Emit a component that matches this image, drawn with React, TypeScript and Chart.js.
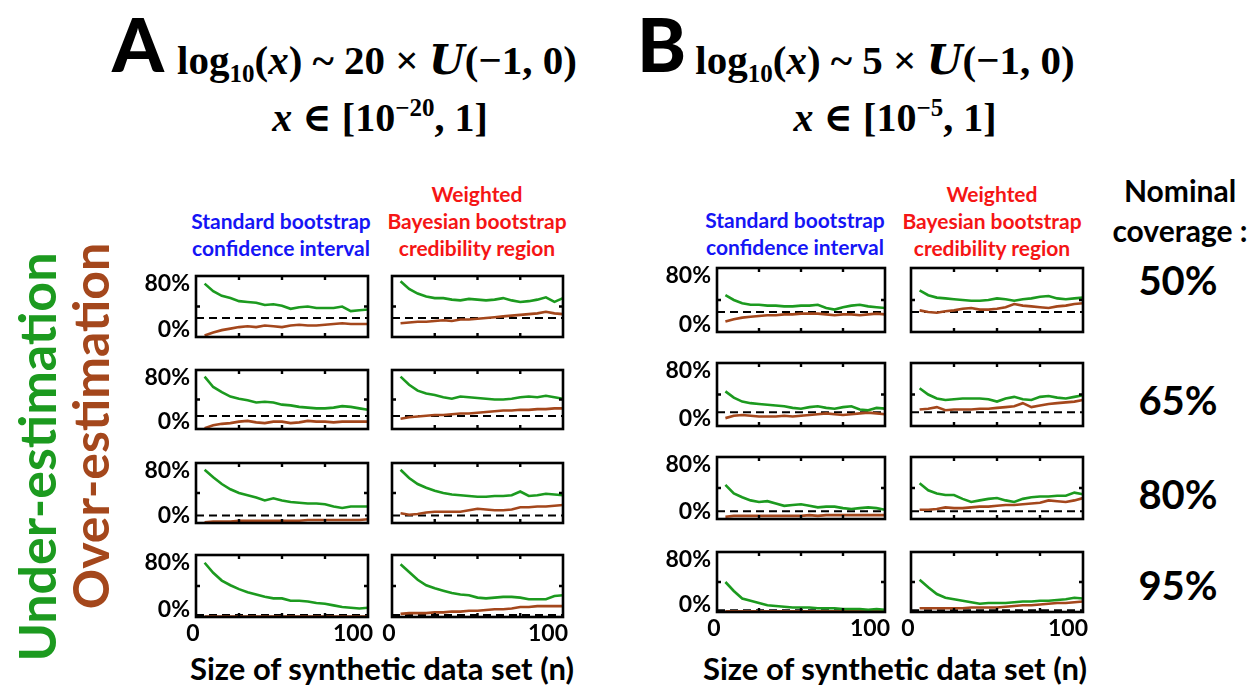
import React, { useEffect, useRef } from "react";
import { Chart, registerables } from "chart.js";
Chart.register(...registerables);

// ---------- data ----------
const nSizes = [5, 10, 15, 20, 25, 30, 35, 40, 45, 50, 55, 60, 65, 70, 75, 80, 85, 90, 95, 100];
const nominalCoverage = ["50%", "65%", "80%", "95%"];
const dashedLevels = [25, 17.5, 10, 2.5];

// Panel A (x in [1e-20, 1]) — standard bootstrap
const aStdGreen = [
  [70, 60, 54, 51, 47, 46, 45, 42, 43, 41, 37, 39, 40, 38, 38, 38, 40, 34, 35, 36],
  [71, 57, 50, 44, 41, 39, 36, 37, 36, 33, 32, 30, 29, 28, 28, 29, 31, 30, 28, 26],
  [71, 61, 52, 45, 40, 37, 34, 30, 33, 30, 28, 27, 26, 26, 25, 22, 20, 22, 22, 22],
  [70, 57, 47, 41, 36, 32, 29, 26, 24, 24, 21, 21, 20, 18, 17, 15, 13, 12, 11, 12],
];
const aStdBrown = [
  [2, 6, 9, 11, 13, 14, 13, 15, 14, 13, 15, 16, 15, 15, 16, 17, 18, 17, 17, 17],
  [1, 5, 7, 8, 10, 11, 9, 8, 10, 10, 8, 9, 11, 10, 10, 9, 10, 10, 10, 10],
  [1, 2, 2, 2, 3, 3, 3, 3, 3, 3, 3, 3, 4, 4, 4, 4, 4, 4, 4, 5],
  [0.5, 0.5, 0.5, 0.5, 0.5, 0.5, 0.5, 0.5, 0.5, 0.5, 0.5, 0.5, 0.5, 0.5, 0.5, 0.5, 0.5, 0.5, 0.5, 0.5],
];
// Panel A — weighted Bayesian bootstrap
const aBayesGreen = [
  [73, 63, 57, 53, 51, 51, 49, 48, 50, 49, 48, 49, 51, 48, 46, 47, 49, 52, 46, 51],
  [71, 60, 52, 48, 46, 43, 41, 44, 43, 42, 41, 40, 40, 41, 43, 44, 43, 45, 43, 41],
  [71, 60, 52, 47, 43, 40, 38, 37, 36, 35, 35, 36, 36, 37, 42, 36, 37, 39, 38, 37],
  [68, 58, 48, 41, 37, 34, 31, 29, 28, 25, 24, 25, 26, 26, 25, 23, 23, 23, 27, 28],
];
const aBayesBrown = [
  [18, 19, 20, 20, 21, 22, 21, 23, 23, 24, 25, 26, 27, 28, 29, 30, 31, 33, 31, 30],
  [14, 16, 17, 18, 19, 19, 20, 21, 21, 22, 23, 24, 25, 25, 26, 26, 27, 27, 28, 28],
  [13, 11, 12, 14, 15, 15, 15, 15, 17, 19, 18, 17, 17, 18, 21, 21, 22, 22, 23, 24],
  [4, 5, 5, 5, 6, 6, 7, 7, 8, 8, 9, 10, 10, 11, 13, 13, 14, 14, 14, 14],
];
// Panel B (x in [1e-5, 1]) — standard bootstrap
const bStdGreen = [
  [46, 40, 36, 34, 34, 33, 33, 32, 32, 33, 33, 34, 30, 28, 31, 33, 34, 32, 31, 30],
  [44, 36, 31, 29, 28, 27, 26, 25, 23, 22, 24, 25, 23, 22, 24, 25, 21, 20, 23, 22],
  [44, 33, 28, 24, 22, 23, 20, 17, 18, 19, 17, 15, 16, 16, 14, 13, 14, 15, 14, 12],
  [40, 28, 18, 15, 12, 9, 8, 7, 6, 6, 6, 5, 5, 5, 4, 4, 4, 3, 4, 3],
];
const bStdBrown = [
  [13, 16, 18, 19, 20, 21, 21, 22, 22, 23, 23, 23, 22, 21, 22, 22, 21, 22, 23, 22],
  [10, 13, 14, 13, 12, 12, 12, 13, 12, 13, 14, 15, 16, 15, 14, 15, 16, 17, 16, 15],
  [3, 4, 4, 4, 4, 4, 4, 4, 4, 4, 5, 4, 5, 5, 5, 5, 5, 5, 5, 5],
  [1, 1, 1, 1, 1, 1, 1, 1, 1, 1, 1, 1, 1, 1, 1, 1, 1, 1, 1, 1],
];
// Panel B — weighted Bayesian bootstrap
const bBayesGreen = [
  [52, 46, 43, 42, 41, 40, 39, 39, 40, 42, 41, 39, 41, 42, 44, 45, 42, 41, 42, 43],
  [48, 40, 35, 33, 34, 35, 35, 35, 34, 31, 35, 37, 34, 33, 37, 38, 36, 35, 37, 39],
  [46, 37, 33, 31, 31, 26, 22, 24, 26, 27, 24, 22, 26, 28, 29, 29, 30, 30, 34, 32],
  [43, 33, 24, 19, 17, 15, 13, 11, 12, 12, 12, 13, 14, 14, 15, 15, 16, 17, 19, 18],
];
const bBayesBrown = [
  [27, 25, 24, 26, 27, 29, 30, 28, 28, 29, 31, 35, 33, 32, 31, 30, 32, 33, 35, 36],
  [21, 22, 24, 20, 21, 21, 21, 22, 22, 23, 24, 25, 29, 24, 26, 28, 29, 30, 31, 33],
  [12, 12, 13, 15, 14, 14, 15, 16, 16, 17, 18, 18, 19, 20, 21, 24, 23, 22, 24, 27],
  [5, 5, 5, 5, 5, 5, 6, 6, 6, 6, 7, 8, 9, 9, 10, 11, 12, 12, 13, 14],
];

// ---------- style ----------
const GREEN = "#1c9a1f";
const BROWN = "#a4471c";
const LABEL_FONT = "Lato, 'Open Sans', sans-serif";

// panel layout (chart-area boxes, page pixels)
const colsA = [
  { left: 196, width: 172 },
  { left: 392, width: 171 },
];
const colsB = [
  { left: 717, width: 168 },
  { left: 911, width: 172 },
];
const rowsA = [
  { top: 276, height: 61 },
  { top: 370, height: 59 },
  { top: 463, height: 60 },
  { top: 555, height: 62 },
];
const rowsB = [
  { top: 268, height: 64 },
  { top: 363, height: 63 },
  { top: 457, height: 62 },
  { top: 552, height: 60 },
];

const PL = 60;
const PR = 10;
const PT = 8;
const PB = 32;

type PanelProps = {
  left: number;
  top: number;
  width: number;
  height: number;
  green: number[];
  brown: number[];
  dash: number;
  showY: boolean;
  showX: boolean;
};

function makeFramePlugin(showY: boolean, showX: boolean) {
  return {
    id: "frameTicks",
    afterDatasetsDraw(chart: any) {
      const { ctx, chartArea } = chart;
      const xs = chart.scales.x;
      const ys = chart.scales.y;
      const { left, right, top, bottom } = chartArea;
      ctx.save();
      ctx.strokeStyle = "#000";
      ctx.lineWidth = 2.6;
      ctx.strokeRect(left, top, right - left, bottom - top);
      ctx.lineWidth = 2.4;
      const tl = 4;
      [25, 50, 75].forEach((v) => {
        const px = xs.getPixelForValue(v);
        ctx.beginPath();
        ctx.moveTo(px, top);
        ctx.lineTo(px, top + tl);
        ctx.moveTo(px, bottom);
        ctx.lineTo(px, bottom - tl);
        ctx.stroke();
      });
      const py = ys.getPixelForValue(40);
      ctx.beginPath();
      ctx.moveTo(left, py);
      ctx.lineTo(left + tl, py);
      ctx.moveTo(right, py);
      ctx.lineTo(right - tl, py);
      ctx.stroke();

      ctx.fillStyle = "#000";
      ctx.font = `bold 23px ${LABEL_FONT}`;
      ctx.textBaseline = "middle";
      if (showY) {
        ctx.textAlign = "right";
        ctx.fillText("80%", left - 6, ys.getPixelForValue(80) + 8);
        ctx.fillText("0%", left - 6, ys.getPixelForValue(0) - 7);
      }
      if (showX) {
        ctx.textAlign = "center";
        ctx.fillText("0", xs.getPixelForValue(0) - 3, bottom + 17);
        ctx.fillText("100", xs.getPixelForValue(100) - 15, bottom + 17);
      }
      ctx.restore();
    },
  };
}

function Panel(p: PanelProps) {
  const ref = useRef<HTMLCanvasElement | null>(null);
  useEffect(() => {
    if (!ref.current) return;
    const chart = new Chart(ref.current, {
      type: "line",
      data: {
        datasets: [
          {
            data: nSizes.map((n, i) => ({ x: n, y: p.green[i] })),
            borderColor: GREEN,
            borderWidth: 2.6,
            pointRadius: 0,
            tension: 0,
          },
          {
            data: nSizes.map((n, i) => ({ x: n, y: p.brown[i] })),
            borderColor: BROWN,
            borderWidth: 2.6,
            pointRadius: 0,
            tension: 0,
          },
          {
            data: [
              { x: 0, y: p.dash },
              { x: 100, y: p.dash },
            ],
            borderColor: "#000",
            borderWidth: 2,
            borderDash: [8, 5],
            pointRadius: 0,
          },
        ],
      },
      options: {
        animation: false,
        responsive: false,
        events: [],
        layout: { padding: { left: PL, right: PR, top: PT, bottom: PB } },
        plugins: { legend: { display: false }, tooltip: { enabled: false } },
        scales: {
          x: { type: "linear", min: 0, max: 100, display: false },
          y: { min: 0, max: 80, display: false },
        },
      } as any,
      plugins: [makeFramePlugin(p.showY, p.showX)],
    });
    return () => chart.destroy();
  }, []);
  return (
    <canvas
      ref={ref}
      width={p.width + PL + PR}
      height={p.height + PT + PB}
      style={{ position: "absolute", left: p.left - PL, top: p.top - PT }}
    />
  );
}

const serif = "'Liberation Serif', 'DejaVu Serif', serif";
const sans = "Lato, 'Open Sans', sans-serif";

function Centered({ x, y, children, style }: any) {
  return (
    <div
      style={{
        position: "absolute",
        left: x,
        top: y,
        transform: "translate(-50%, -50%)",
        whiteSpace: "nowrap",
        ...style,
      }}
    >
      {children}
    </div>
  );
}

function Formula({ factor }: { factor: string }) {
  return (
    <span style={{ fontFamily: serif, fontWeight: "bold", fontSize: 41 }}>
      log<sub style={{ fontSize: 25, verticalAlign: "-8px" }}>10</sub>(<i>x</i>) ~ {factor} ×{" "}
      <i style={{ fontFamily: "'DejaVu Serif', serif" }}>U</i>(−1, 0)
    </span>
  );
}

function Range({ exp }: { exp: string }) {
  return (
    <span style={{ fontFamily: serif, fontWeight: "bold", fontSize: 40 }}>
      <i>x</i> ∈ [10<sup style={{ fontSize: 25, verticalAlign: "15px" }}>{exp}</sup>, 1]
    </span>
  );
}

export default function App() {
  const panels: PanelProps[] = [];
  for (let r = 0; r < 4; r++) {
    panels.push({ ...colsA[0], ...rowsA[r], green: aStdGreen[r], brown: aStdBrown[r], dash: dashedLevels[r], showY: true, showX: r === 3 });
    panels.push({ ...colsA[1], ...rowsA[r], green: aBayesGreen[r], brown: aBayesBrown[r], dash: dashedLevels[r], showY: false, showX: r === 3 });
    panels.push({ ...colsB[0], ...rowsB[r], green: bStdGreen[r], brown: bStdBrown[r], dash: dashedLevels[r], showY: true, showX: r === 3 });
    panels.push({ ...colsB[1], ...rowsB[r], green: bBayesGreen[r], brown: bBayesBrown[r], dash: dashedLevels[r], showY: false, showX: r === 3 });
  }
  const blueTitle = { color: "#1515f5", fontFamily: sans, fontWeight: "bold", fontSize: 21, lineHeight: "27px", textAlign: "center" as const };
  const redTitle = { ...blueTitle, color: "#f51515" };
  const covY = [280, 400, 494, 585];
  return (
    <div style={{ position: "absolute", left: 0, top: 0, width: 1257, height: 694, background: "#fff", overflow: "hidden" }}>
      {/* Big letters and formulas */}
      <div style={{ position: "absolute", left: 112, top: 4, fontFamily: sans, fontWeight: 900, fontSize: 74, lineHeight: "80px" }}>A</div>
      <div style={{ position: "absolute", left: 637, top: 4, fontFamily: sans, fontWeight: 900, fontSize: 74, lineHeight: "80px" }}>B</div>
      <Centered x={377} y={62}><Formula factor="20" /></Centered>
      <Centered x={885} y={62}><Formula factor="5" /></Centered>
      <Centered x={380} y={117}><Range exp="−20" /></Centered>
      <Centered x={895} y={117}><Range exp="−5" /></Centered>

      {/* Column titles */}
      <Centered x={281} y={234} style={blueTitle}>Standard bootstrap<br />confidence interval</Centered>
      <Centered x={477} y={220} style={redTitle}>Weighted<br />Bayesian bootstrap<br />credibility region</Centered>
      <Centered x={795} y={233} style={blueTitle}>Standard bootstrap<br />confidence interval</Centered>
      <Centered x={992} y={220} style={redTitle}>Weighted<br />Bayesian bootstrap<br />credibility region</Centered>

      {/* Nominal coverage */}
      <Centered x={1180} y={210} style={{ fontFamily: sans, fontWeight: "bold", fontSize: 30, lineHeight: "40px", textAlign: "center" }}>
        Nominal<br />coverage :
      </Centered>
      {nominalCoverage.map((c, i) => (
        <Centered key={c} x={1178} y={covY[i]} style={{ fontFamily: sans, fontWeight: "bold", fontSize: 40 }}>{c}</Centered>
      ))}

      {/* Rotated side labels */}
      <Centered x={36} y={457} style={{ transform: "translate(-50%, -50%) rotate(-90deg)", color: GREEN, fontFamily: sans, fontWeight: "bold", fontSize: 52 }}>
        Under-estimation
      </Centered>
      <Centered x={90} y={426} style={{ transform: "translate(-50%, -50%) rotate(-90deg)", color: BROWN, fontFamily: sans, fontWeight: "bold", fontSize: 50 }}>
        Over-estimation
      </Centered>

      {/* x-axis titles */}
      <Centered x={382} y={668} style={{ fontFamily: sans, fontWeight: "bold", fontSize: 31 }}>Size of synthetic data set (n)</Centered>
      <Centered x={895} y={668} style={{ fontFamily: sans, fontWeight: "bold", fontSize: 31 }}>Size of synthetic data set (n)</Centered>

      {panels.map((p, i) => (
        <Panel key={i} {...p} />
      ))}
    </div>
  );
}
